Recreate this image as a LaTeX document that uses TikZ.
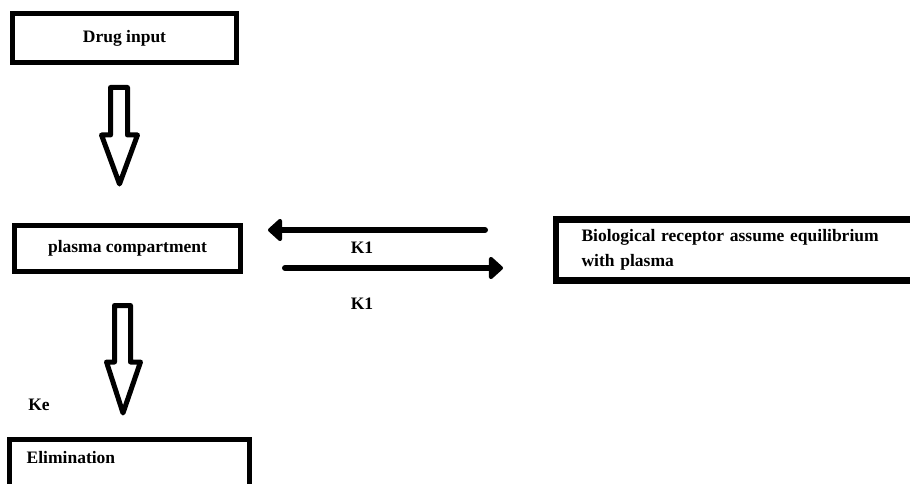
\documentclass[tikz,border=0pt]{standalone}
\usepackage{fontspec}
\setmainfont{Liberation Serif}
\usetikzlibrary{arrows.meta}
\begin{document}
\begin{tikzpicture}[x=1pt,y=-1pt,
  txt/.style={font=\fontsize{17.5}{25}\selectfont\bfseries, inner sep=0pt},
  box/.style={draw=black, line width=5pt, fill=white, inner sep=0pt},
  blockarrow/.style={draw=black, line width=5pt, line join=round, fill=white},
  flow/.style={line width=6pt, line cap=round, -{Triangle[length=15pt,width=26pt,round]}}
]
\fill[white] (0,0) rectangle (910,484);
\path[use as bounding box] (0,0) rectangle (910,484);
\clip (0,0) rectangle (910,484);

% boxes
\node[box, minimum width=224pt, minimum height=49pt, txt] (drug) at (124.5,38) {Drug input};
\node[box, minimum width=226pt, minimum height=46pt, txt] (plasma) at (127.5,248.5) {plasma compartment};
\node[box, line width=6.5pt, minimum width=351pt, minimum height=61pt,
      text width=320pt, align=left, inner xsep=25.5pt, inner ysep=0pt,
      font=\fontsize{17.5}{25}\selectfont\bfseries] (bio) at (741.5,250)
      {Biological receptor assume equilibrium\\with plasma};
\node[box, minimum width=240pt, minimum height=70pt] (elim) at (129.5,474.5) {};
\node[txt, anchor=west] (elimtxt) at ([xshift=19.5pt,yshift=-21pt]elim.north west) {Elimination};

% block arrow drug -> plasma
\coordinate (a1) at (119.5,87.5);
\draw[blockarrow] ([xshift=-9pt]a1) -- ([xshift=8pt]a1) -- ([xshift=8pt,yshift=-47.5pt]a1)
  -- ([xshift=18pt,yshift=-47.5pt]a1) -- ([yshift=-96.5pt]a1) -- ([xshift=-18pt,yshift=-47.5pt]a1)
  -- ([xshift=-9pt,yshift=-47.5pt]a1) -- cycle;

% block arrow plasma -> elimination
\coordinate (a2) at (122.5,305.5);
\draw[blockarrow] ([xshift=-8pt]a2) -- ([xshift=8pt]a2) -- ([xshift=8pt,yshift=-56.5pt]a2)
  -- ([xshift=18pt,yshift=-56.5pt]a2) -- ([xshift=0.5pt,yshift=-107.5pt]a2) -- ([xshift=-16pt,yshift=-56.5pt]a2)
  -- ([xshift=-8pt,yshift=-56.5pt]a2) -- cycle;

% exchange arrows
\coordinate (l1) at (485,230);
\coordinate (l2) at (268,230);
\coordinate (r1) at (285,268);
\coordinate (r2) at (503,268);
\draw[flow] (l1) -- (l2);
\draw[flow] (r1) -- (r2);

% labels
\node[txt] (k1a) at (362,248) {K1};
\node[txt] (k1b) at (362,304) {K1};
\node[txt] (ke) at (39,405) {Ke};
\end{tikzpicture}
\end{document}
